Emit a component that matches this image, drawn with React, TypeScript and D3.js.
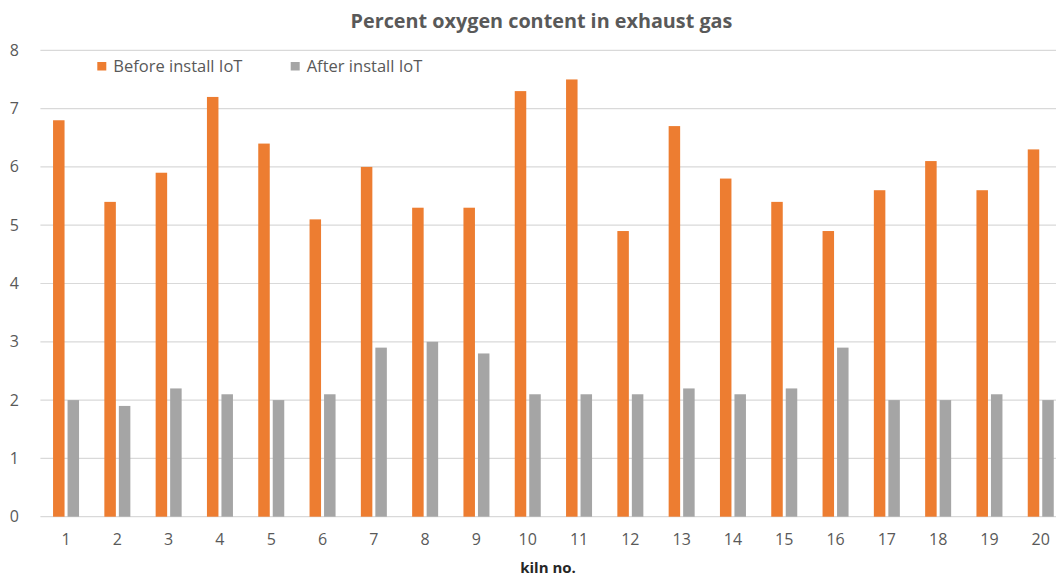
import React from "react";
import * as d3 from "d3";

const kilns = ["1","2","3","4","5","6","7","8","9","10","11","12","13","14","15","16","17","18","19","20"];
const beforeIoT = [6.8, 5.4, 5.9, 7.2, 6.4, 5.1, 6.0, 5.3, 5.3, 7.3, 7.5, 4.9, 6.7, 5.8, 5.4, 4.9, 5.6, 6.1, 5.6, 6.3];
const afterIoT = [2.0, 1.9, 2.2, 2.1, 2.0, 2.1, 2.9, 3.0, 2.8, 2.1, 2.1, 2.1, 2.2, 2.1, 2.2, 2.9, 2.0, 2.0, 2.1, 2.0];
const yTicks = [0, 1, 2, 3, 4, 5, 6, 7, 8];
const seriesNames = ["Before install IoT", "After install IoT"];
const colors = ["#ED7D31", "#A5A5A5"];

export default function App() {
  const W = 1056, H = 577;
  const left = 40.4, right = 1066.4, top = 50.3, bottom = 516.7;
  const x = d3.scaleBand<string>().domain(kilns).range([left, right]).paddingInner(0).paddingOuter(0);
  const y = d3.scaleLinear().domain([0, 8]).range([bottom, top]);
  const barW = 11.5, gap = 3;
  const font = "'Open Sans', 'Liberation Sans', sans-serif";
  const series = [beforeIoT, afterIoT];
  return (
    <div style={{ position: "fixed", left: 0, top: 0, width: W, height: H, background: "#fff" }}>
      <svg width={W} height={H} style={{ display: "block" }}>
        <rect width={W} height={H} fill="#fff" />
        <text x={541.5} y={28} textAnchor="middle" fontFamily={font} fontWeight="bold" fontSize={19.8} fill="#595959">
          Percent oxygen content in exhaust gas
        </text>
        {yTicks.map((t) => (
          <g key={t}>
            <line x1={left} x2={W} y1={y(t)} y2={y(t)} stroke="#d9d9d9" strokeWidth={1.2} />
            <text x={19} y={y(t) + 5.5} textAnchor="end" fontFamily={font} fontSize={16} fill="#595959">{t}</text>
          </g>
        ))}
        {series.map((vals, si) => (
          <g key={si}>
            {vals.map((v, i) => {
              const cx = (x(kilns[i]) as number) + x.bandwidth() / 2;
              const bx = si === 0 ? cx - gap / 2 - barW : cx + gap / 2;
              return <rect key={i} x={bx} y={y(v)} width={barW} height={y(0) - y(v)} fill={colors[si]} />;
            })}
          </g>
        ))}
        {kilns.map((k) => (
          <text key={k} x={(x(k) as number) + x.bandwidth() / 2} y={545} textAnchor="middle" fontFamily={font} fontSize={16} fill="#595959">{k}</text>
        ))}
        <text x={548} y={572.5} textAnchor="middle" fontFamily={font} fontWeight="bold" fontSize={15} fill="#262626">kiln no.</text>
        {seriesNames.map((n, i) => {
          const lx = i === 0 ? 97.3 : 290.7;
          return (
            <g key={n}>
              <rect x={lx} y={62} width={9} height={8.5} fill={colors[i]} />
              <text x={lx + 16} y={71.5} fontFamily={font} fontSize={16.5} fill="#595959">{n}</text>
            </g>
          );
        })}
      </svg>
    </div>
  );
}
